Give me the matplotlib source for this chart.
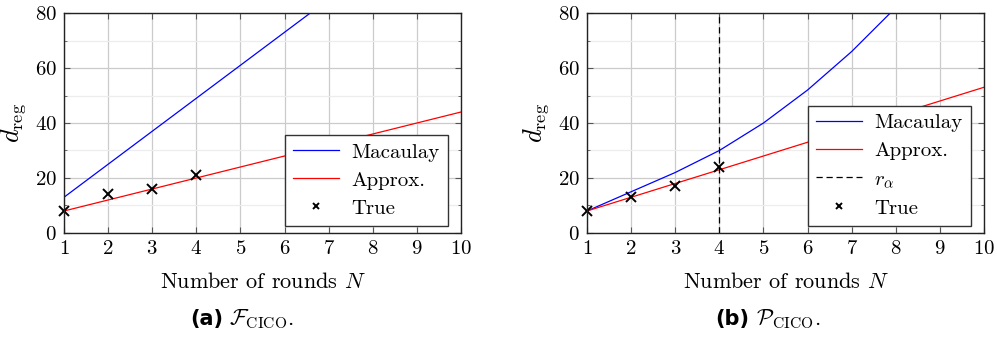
import matplotlib
matplotlib.use("Agg")
import matplotlib.pyplot as plt
from matplotlib.ticker import MultipleLocator

plt.rcParams['font.family'] = 'serif'
plt.rcParams['font.serif'] = ['cmr10']
plt.rcParams['mathtext.fontset'] = 'cm'
plt.rcParams['axes.formatter.use_mathtext'] = True

# Panel (a) F_CICO
rounds = [1, 2, 3, 4, 5, 6, 7, 8, 9, 10]
a_macaulay = [13, 25, 37, 49, 61, 73, 85, 97, 109, 121]
a_approx = [8, 12, 16, 20, 24, 28, 32, 36, 40, 44]
a_true_x = [1, 2, 3, 4]
a_true = [8, 14, 16, 21]

# Panel (b) P_CICO
b_mac_x = [1, 2, 3, 4, 5, 6, 7, 8]
b_macaulay = [8, 15, 22, 30, 40, 52, 66, 82]
b_approx = [8, 13, 18, 23, 28, 33, 38, 43, 48, 53]
b_true_x = [1, 2, 3, 4]
b_true = [8, 13, 17, 24]
r_alpha = 4

fs_tick = 15
fs_lab = 16
fs_leg = 15
fig = plt.figure(figsize=(9.97, 3.38), dpi=100)
ax1 = fig.add_axes([0.0642, 0.3107, 0.3982, 0.6508])
ax2 = fig.add_axes([0.5888, 0.3107, 0.3982, 0.6508])

def style(ax):
    ax.set_xlim(1, 10)
    ax.set_ylim(0, 80)
    ax.xaxis.set_major_locator(MultipleLocator(1))
    ax.yaxis.set_major_locator(MultipleLocator(20))
    ax.yaxis.set_minor_locator(MultipleLocator(10))
    ax.grid(True, which='major', color='#cbcbcb', linewidth=0.9)
    ax.grid(True, which='minor', axis='y', color='#ededed', linewidth=0.9)
    ax.tick_params(which='both', direction='in', top=True, right=True,
                   labelsize=fs_tick, color='#555555', pad=5)
    ax.tick_params(which='major', length=4)
    ax.tick_params(which='minor', length=2.5)
    ax.set_axisbelow(True)
    for s in ax.spines.values():
        s.set_linewidth(1.0)
        s.set_color('#222222')
    ax.set_xlabel(r'Number of rounds $N$', fontsize=fs_lab, labelpad=10)
    ax.set_ylabel(r'$d_{\mathrm{reg}}$', fontsize=fs_lab + 3, labelpad=5)

legkw = dict(loc='lower right', bbox_to_anchor=(0.967, 0.032), borderaxespad=0,
             fontsize=fs_leg, fancybox=False, edgecolor='#333333',
             framealpha=1, handlelength=2.2, labelspacing=0.45,
             handletextpad=0.6, borderpad=0.4, markerscale=0.7)

ax1.plot(rounds, a_macaulay, color='blue', lw=0.9, label='Macaulay')
ax1.plot(rounds, a_approx, color='red', lw=0.9, label='Approx.')
ax1.plot(a_true_x, a_true, linestyle='none', marker='x', color='black',
         markersize=7, mew=1.4, label='True', clip_on=False)
style(ax1)
leg1 = ax1.legend(**legkw)
leg1.get_frame().set_linewidth(1.0)

ax2.plot(b_mac_x, b_macaulay, color='blue', lw=0.9, label='Macaulay')
ax2.plot(rounds, b_approx, color='red', lw=0.9, label='Approx.')
ax2.axvline(r_alpha, color='black', lw=0.9, linestyle=(0, (5, 3)), label=r'$r_\alpha$')
ax2.plot(b_true_x, b_true, linestyle='none', marker='x', color='black',
         markersize=7, mew=1.4, label='True', clip_on=False)
style(ax2)
leg2 = ax2.legend(**legkw)
leg2.get_frame().set_linewidth(1.0)

ycap = 0.056
fig.text(0.2235, ycap, r'(a)', fontsize=fs_lab - 1, fontweight='bold', family='DejaVu Sans',
         ha='right', va='center')
fig.text(0.230, ycap, r'$\mathcal{F}_{\mathrm{CICO}}$.', fontsize=fs_lab, ha='left', va='center')
fig.text(0.7515, ycap, r'(b)', fontsize=fs_lab - 1, fontweight='bold', family='DejaVu Sans',
         ha='right', va='center')
fig.text(0.758, ycap, r'$\mathcal{P}_{\mathrm{CICO}}$.', fontsize=fs_lab, ha='left', va='center')

fig.savefig('out.png', dpi=100)
